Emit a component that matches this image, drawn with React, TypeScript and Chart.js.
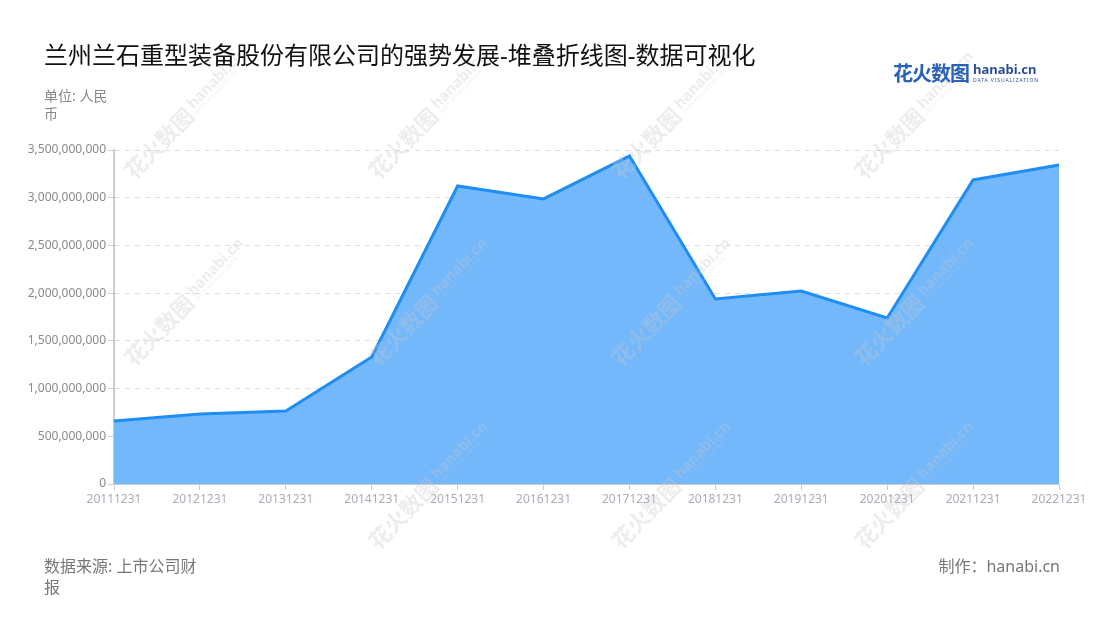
import React, { useEffect, useRef } from "react";
import { Chart, registerables } from "chart.js";

Chart.register(...registerables);

const categories = [
  "20111231", "20121231", "20131231", "20141231", "20151231", "20161231",
  "20171231", "20181231", "20191231", "20201231", "20211231", "20221231",
];
const values = [
  660000000, 734000000, 765000000, 1331000000, 3123000000, 2987000000,
  3437000000, 1939000000, 2022000000, 1740000000, 3186000000, 3343000000,
];
const yTicks = [0, 500000000, 1000000000, 1500000000, 2000000000, 2500000000, 3000000000, 3500000000];

const FONT = '"Noto Sans", "Noto Sans CJK SC", sans-serif';

const watermarkSpots: [number, number][] = [
  [136, 182], [380, 182], [623, 182], [866, 182],
  [136, 369], [380, 369], [623, 369], [866, 369],
  [380, 552], [623, 552], [866, 552],
];

function Watermark({ x, y }: { x: number; y: number }) {
  return (
    <div style={{ position: "absolute", left: x, top: y, transform: "rotate(-46deg)", transformOrigin: "0 0", pointerEvents: "none" }}>
      <div style={{ position: "absolute", left: 0, bottom: 0, whiteSpace: "nowrap", display: "flex", alignItems: "flex-end", color: "rgba(200,200,200,0.32)", lineHeight: 1 }}>
        <span style={{ fontSize: 22, fontWeight: 700 }}>花火数图</span>
        <span style={{ display: "inline-block", marginLeft: 4, marginBottom: 2 }}>
          <span style={{ display: "block", fontSize: 15, fontWeight: 700 }}>hanabi.cn</span>
          <span style={{ display: "block", fontSize: 5, letterSpacing: 0.5 }}>DATA VISUALIZATION</span>
        </span>
      </div>
    </div>
  );
}

export default function App() {
  const ref = useRef<HTMLCanvasElement | null>(null);
  useEffect(() => {
    if (!ref.current) return;
    const chart = new Chart(ref.current, {
      type: "line",
      data: {
        labels: categories,
        datasets: [
          {
            label: "兰州兰石重型装备股份有限公司",
            data: values,
            borderColor: "#1e8ef5",
            backgroundColor: "#74b8fc",
            borderWidth: 3,
            fill: "origin",
            pointRadius: 0,
            tension: 0,
          },
        ],
      },
      options: {
        responsive: false,
        animation: false,
        layout: { padding: { left: 0, top: 150, right: 41, bottom: 106 } },
        plugins: { legend: { display: false }, tooltip: { enabled: false } },
        scales: {
          x: {
            offset: false,
            grid: { display: true, drawOnChartArea: false, drawTicks: true, tickLength: 6, color: "#cccccc" },
            border: { display: true, color: "#cccccc", width: 1 },
            ticks: { color: "#a9adb8", font: { family: FONT, size: 12 }, maxRotation: 0, autoSkip: false, padding: 2 },
            afterFit: (s: any) => { s.height = 30; },
          },
          y: {
            min: 0,
            max: 3500000000,
            afterBuildTicks: (s: any) => { s.ticks = yTicks.map((v) => ({ value: v })); },
            grid: { color: "#dddddd", tickColor: "#cccccc", tickLength: 6, drawTicks: true },
            border: { display: true, color: "#cccccc", width: 2, dash: [5, 5] },
            ticks: {
              color: "#8a8a8a",
              font: { family: FONT, size: 12 },
              padding: 2,
              callback: (v: any) => Number(v).toLocaleString("en-US"),
            },
            afterFit: (s: any) => { s.width = 114; },
          },
        },
      },
    });
    return () => chart.destroy();
  }, []);

  return (
    <div style={{ position: "absolute", left: 0, top: 0, width: 1100, height: 620, background: "#fff", fontFamily: FONT, overflow: "hidden" }}>
      <canvas ref={ref} width={1100} height={620} style={{ position: "absolute", left: 0, top: 0 }} />
      {watermarkSpots.map(([x, y], i) => <Watermark key={i} x={x} y={y} />)}
      <div style={{ position: "absolute", left: 44, top: 40, fontSize: 24, color: "#111", whiteSpace: "nowrap", lineHeight: "30px" }}>
        兰州兰石重型装备股份有限公司的强势发展-堆叠折线图-数据可视化
      </div>
      <div style={{ position: "absolute", left: 44, top: 87, width: 72, fontSize: 14, color: "#888", lineHeight: "18px" }}>
        单位: 人民<br />币
      </div>
      <div style={{ position: "absolute", left: 893, top: 58, whiteSpace: "nowrap", display: "flex", alignItems: "center" }}>
        <span style={{ fontSize: 20, fontWeight: 700, color: "#2a62b8", letterSpacing: -1 }}>花火数图</span>
        <span style={{ display: "inline-block", marginLeft: 4, lineHeight: 1 }}>
          <span style={{ display: "block", fontSize: 13, fontWeight: 700, color: "#2a4f9a" }}>hanabi.cn</span>
          <span style={{ display: "block", fontSize: 5, color: "#2a4f9a", letterSpacing: 0.9, marginTop: 2 }}>DATA VISUALIZATION</span>
        </span>
      </div>
      <div style={{ position: "absolute", left: 44, top: 556, width: 170, fontSize: 16, color: "#777", lineHeight: "21px" }}>
        数据来源: 上市公司财<br />报
      </div>
      <div style={{ position: "absolute", right: 40, top: 556, fontSize: 16, color: "#777", whiteSpace: "nowrap", lineHeight: "21px" }}>
        制作：hanabi.cn
      </div>
    </div>
  );
}
